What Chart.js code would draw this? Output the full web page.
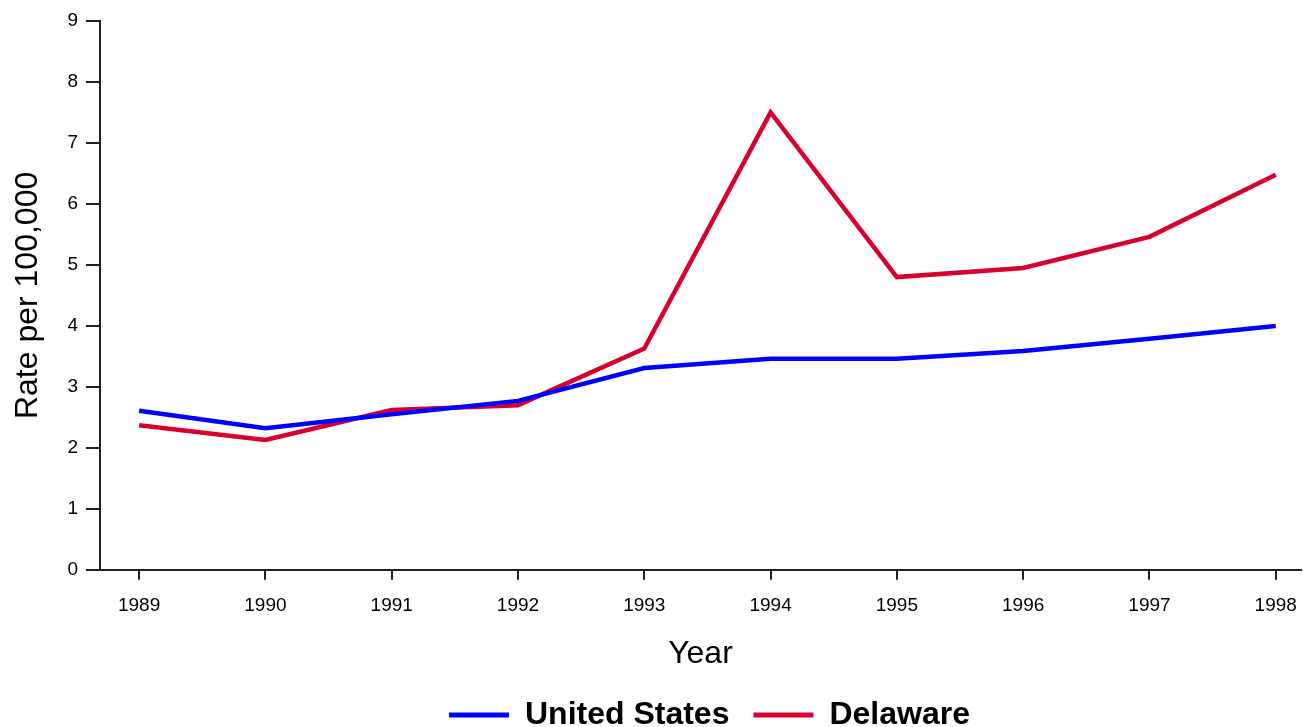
<!DOCTYPE html>
<html>
<head>
<meta charset="utf-8">
<script src="https://cdn.jsdelivr.net/npm/chart.js@4/dist/chart.umd.min.js"></script>
<style>
  html, body { margin: 0; padding: 0; background: #fff; }
  #wrap { width: 1303px; height: 727px; }
</style>
</head>
<body>
<div id="wrap"><canvas id="rate-chart"></canvas></div>
<script>
// data
const years = [1989, 1990, 1991, 1992, 1993, 1994, 1995, 1996, 1997, 1998];
const usRates = [2.61, 2.32, 2.55, 2.77, 3.31, 3.46, 3.46, 3.59, 3.79, 4.00];
const delawareRates = [2.37, 2.13, 2.62, 2.70, 3.63, 7.50, 4.80, 4.95, 5.46, 6.48];
const yTicks = [0, 1, 2, 3, 4, 5, 6, 7, 8, 9];

const axisColor = '#231f20';
const font = 'Arial, "Liberation Sans", sans-serif';

function toPoints(values) {
    return years.map((y, i) => ({ x: y, y: values[i] }));
}

// nudge the legend a little to the right, like the original
const legendShift = {
    id: 'legendShift',
    afterLayout(chart) {
        chart.legend.left += 9;
        chart.legend.right += 9;
    }
};

const ctx = document.getElementById('rate-chart').getContext('2d');

new Chart(ctx, {
    type: 'line',
    data: {
        datasets: [{
            label: 'United States',
            data: toPoints(usRates),
            borderColor: '#0000ff',
            backgroundColor: '#0000ff',
            borderWidth: 4.5,
            pointRadius: 0,
            tension: 0
        }, {
            label: 'Delaware',
            data: toPoints(delawareRates),
            borderColor: '#d7002f',
            backgroundColor: '#d7002f',
            borderWidth: 4.5,
            pointRadius: 0,
            tension: 0
        }]
    },
    plugins: [legendShift],
    options: {
        responsive: true,
        maintainAspectRatio: false,
        animation: false,
        layout: { padding: { top: 21, right: 2, left: 9, bottom: -14 } },
        plugins: {
            tooltip: { enabled: false },
            legend: {
                position: 'bottom',
                fullSize: false,
                labels: {
                    color: '#000',
                    font: { family: font, size: 32, weight: 'bold' },
                    boxWidth: 60,
                    boxHeight: 5,
                    padding: 24,
                    generateLabels: function(chart) {
                        const items = Chart.defaults.plugins.legend.labels.generateLabels(chart);
                        items.forEach(it => { it.lineWidth = 0; });
                        return items;
                    }
                }
            }
        },
        scales: {
            x: {
                type: 'linear',
                min: 1988.69,
                max: 1998.2,
                afterBuildTicks: function(axis) {
                    axis.ticks = years.map(v => ({ value: v }));
                },
                afterFit: function(axis) {
                    // last label sits well inside the axis, no extra room needed
                    axis.paddingRight = 0;
                },
                ticks: {
                    color: '#000',
                    font: { family: font, size: 19 },
                    padding: 15,
                    maxRotation: 0,
                    callback: v => String(v)
                },
                grid: {
                    drawOnChartArea: false,
                    drawTicks: true,
                    tickLength: 10,
                    color: axisColor,
                    lineWidth: 2
                },
                border: { color: axisColor, width: 2 },
                title: {
                    display: true,
                    text: 'Year',
                    color: '#000',
                    font: { family: font, size: 32 },
                    padding: { top: 2, bottom: 2 }
                }
            },
            y: {
                min: 0,
                max: 9,
                afterBuildTicks: function(axis) {
                    axis.ticks = yTicks.map(v => ({ value: v }));
                },
                ticks: {
                    color: '#000',
                    font: { family: font, size: 19 },
                    padding: 8
                },
                grid: {
                    drawOnChartArea: false,
                    drawTicks: true,
                    tickLength: 14,
                    color: axisColor,
                    lineWidth: 2
                },
                border: { color: axisColor, width: 2 },
                title: {
                    display: true,
                    text: 'Rate per 100,000',
                    color: '#000',
                    font: { family: font, size: 32 },
                    padding: { top: 0, bottom: 12 }
                }
            }
        }
    }
});
</script>
</body>
</html>
